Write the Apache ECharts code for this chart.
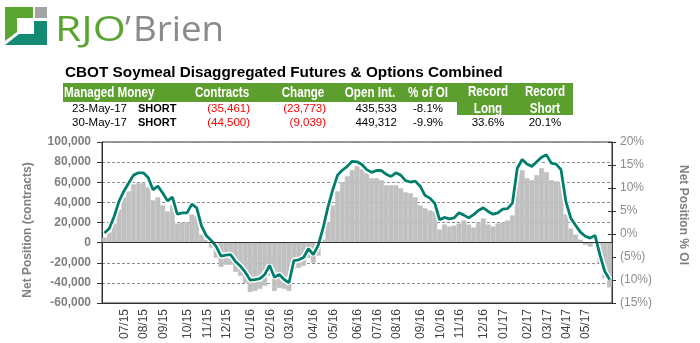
<!DOCTYPE html>
<html><head><meta charset="utf-8">
<script src="https://cdn.jsdelivr.net/npm/echarts@6/dist/echarts.min.js"></script>
<style>html,body{margin:0;padding:0;background:#fff}#c{width:700px;height:343px}</style>
</head><body><div id="c"></div>
<script>
// Weekly report dates (Tuesdays)
const dates = [
'2015-06-02','2015-06-09','2015-06-16','2015-06-23','2015-06-30','2015-07-07','2015-07-14','2015-07-21','2015-07-28',
'2015-08-04','2015-08-11','2015-08-18','2015-08-25','2015-09-01','2015-09-08','2015-09-15','2015-09-22','2015-09-29',
'2015-10-06','2015-10-13','2015-10-20','2015-10-27','2015-11-03','2015-11-10','2015-11-17','2015-11-24',
'2015-12-01','2015-12-08','2015-12-15','2015-12-22','2015-12-29','2016-01-05','2016-01-12','2016-01-19','2016-01-26',
'2016-02-02','2016-02-09','2016-02-16','2016-02-23','2016-03-01','2016-03-08','2016-03-15','2016-03-22','2016-03-29',
'2016-04-05','2016-04-12','2016-04-19','2016-04-26','2016-05-03','2016-05-10','2016-05-17','2016-05-24','2016-05-31',
'2016-06-07','2016-06-14','2016-06-21','2016-06-28','2016-07-05','2016-07-12','2016-07-19','2016-07-26',
'2016-08-02','2016-08-09','2016-08-16','2016-08-23','2016-08-30','2016-09-06','2016-09-13','2016-09-20','2016-09-27',
'2016-10-04','2016-10-11','2016-10-18','2016-10-25','2016-11-01','2016-11-08','2016-11-15','2016-11-22','2016-11-29',
'2016-12-06','2016-12-13','2016-12-20','2016-12-27','2017-01-03','2017-01-10','2017-01-17','2017-01-24','2017-01-31',
'2017-02-07','2017-02-14','2017-02-21','2017-02-28','2017-03-07','2017-03-14','2017-03-21','2017-03-28',
'2017-04-04','2017-04-11','2017-04-18','2017-04-25','2017-05-02','2017-05-09','2017-05-16','2017-05-23','2017-05-30'
];
// Net position (contracts) – grey bars
const netContracts = [
5000,10000,19000,33000,45000,51000,58000,59000,59000,55000,
42000,45000,37000,31000,37000,19000,20000,20000,28000,26000,
8000,3000,-5000,-15000,-24000,-22000,-22000,-29000,-33000,-40000,
-49000,-48000,-46000,-43000,-33000,-48000,-45000,-46000,-48000,-26000,
-25000,-23000,-15000,-20000,-13000,3000,20000,37000,51000,60000,
66000,72000,76000,73000,69000,64000,64000,62000,57000,57000,
57000,54000,50000,49000,45000,37000,34000,32000,31000,13000,
18000,16000,17000,19000,22000,18000,15000,20000,24000,18000,
16000,19000,20000,22000,27000,70000,72000,64000,62000,67000,
74000,70000,62000,61000,60000,28000,14000,8000,3000,-2000,
-4000,-1000,-20000,-35461,-44500
];
// Net position as % of open interest – green line
const pctOI = [
0.2,1.2,3.8,7.1,9.3,11.1,12.8,13.3,13.3,12.3,
9.6,10.4,8.9,7.2,8.0,4.3,4.6,4.6,6.5,5.7,
1.7,-0.4,-1.4,-2.7,-4.8,-4.6,-4.5,-6.0,-7.0,-8.3,
-10.0,-9.9,-9.7,-8.8,-6.8,-9.4,-8.8,-9.9,-10.6,-5.8,
-5.6,-5.1,-3.2,-4.5,-2.5,1.2,5.8,9.6,12.8,13.9,
14.7,15.8,15.7,15.1,14.0,13.4,13.8,13.8,13.0,12.5,
13.3,12.8,11.6,11.3,11.5,10.4,8.4,7.8,6.7,3.1,
3.6,3.3,3.5,4.6,4.1,3.5,4.2,5.1,5.7,4.9,
4.3,4.6,5.4,5.5,6.7,14.3,16.2,15.2,14.7,15.7,
16.7,17.2,15.4,15.2,14.0,7.1,3.5,1.9,0.4,-0.5,
-0.9,-0.3,-4.5,-8.1,-9.9
];
const titleText = 'CBOT Soymeal Disaggregated Futures & Options Combined';
const headerCols = ['Contracts','Change','Open Int.','% of OI'];
const row1 = ['23-May-17','SHORT','(35,461)','(23,773)','435,533','-8.1%'];
const row2 = ['30-May-17','SHORT','(44,500)','(9,039)','449,312','-9.9%'];
const records = ['33.6%','20.1%'];

const chart = echarts.init(document.getElementById('c'), null, {renderer:'canvas'});
const GREEN = '#5c9f2e';
const F = 'Liberation Sans, Arial, sans-serif';

function txt(x, y, text, o) {
  o = o || {};
  return {type:'text', x:x, y:y, z:10, scaleX:o.sx||1, style:{text:text, fill:o.fill||'#000',
    font:(o.weight||'normal')+' '+(o.size||11.5)+'px '+(o.family||F),
    align:o.align||'left', verticalAlign:'middle'}};
}
const colRight = [null,null,250,326,397,443];
const g = [];
// logo
g.push({type:'polygon', shape:{points:[[5,7],[33,7],[33,18],[17,18],[17,32],[5,41]]}, style:{fill:'#5aa532'}});
g.push({type:'rect', shape:{x:35,y:7,width:12,height:11}, style:{fill:'#a3a3a3'}});
g.push({type:'polygon', shape:{points:[[5,45],[47,45],[47,21],[34,21],[34,34],[19,34]]}, style:{fill:'#138a72'}});
g.push({type:'text', x:55, y:31, scaleX:1.25, style:{text:'RJO', fill:'#5aa532', font:'normal 34px Open Sans, sans-serif', verticalAlign:'middle'}});
g.push({type:'text', x:125, y:31, style:{text:'\u2019', fill:'#8a8a8a', font:'normal 34px Open Sans, sans-serif', verticalAlign:'middle'}});
g.push({type:'text', x:133, y:31, scaleX:1.08, style:{text:'Brien', fill:'#8a8a8a', font:'normal 34px Open Sans, sans-serif', verticalAlign:'middle'}});
// title
g.push(txt(65, 73, titleText, {weight:'bold', size:15.3}));
// table header
const HS = {fill:'#fff', weight:'bold', size:14, sx:0.83};
g.push({type:'rect', shape:{x:63,y:83,width:510,height:19}, style:{fill:GREEN}});
g.push({type:'rect', shape:{x:457,y:83,width:116,height:32}, style:{fill:GREEN}});
g.push(txt(64, 93, 'Managed Money', HS));
const hc = [222,303,370,428];
headerCols.forEach((h,i)=>g.push(txt(hc[i], 93, h, Object.assign({align:'center'}, HS))));
g.push(txt(488, 92, 'Record', Object.assign({align:'center'}, HS)));
g.push(txt(545, 92, 'Record', Object.assign({align:'center'}, HS)));
g.push(txt(488, 109, 'Long', Object.assign({align:'center'}, HS)));
g.push(txt(545, 109, 'Short', Object.assign({align:'center'}, HS)));
[[row1,109],[row2,123]].forEach(([r,y])=>{
  g.push(txt(72, y, r[0]));
  g.push(txt(138, y, r[1], {weight:'bold', size:11}));
  for (let k=2;k<6;k++) {
    const red = r[k].charAt(0)==='(';
    g.push(txt(colRight[k], y, r[k], {align:'right', fill: red ? '#ff0000' : '#000'}));
  }
});
g.push(txt(488, 123, records[0], {align:'center'}));
g.push(txt(545, 123, records[1], {align:'center'}));
// axis names
g.push({type:'text', x:28, y:230, rotation:Math.PI/2, style:{text:'Net Position (contracts)', fill:'#808080', font:'bold 12px '+F, align:'center', verticalAlign:'middle'}});
g.push({type:'text', x:683, y:215, rotation:-Math.PI/2, style:{text:'Net Position % OI', fill:'#808080', font:'bold 12px '+F, align:'center', verticalAlign:'middle'}});

const option = {
  animation:false,
  backgroundColor:'#fff',
  grid:{left:102, right:88, top:142, bottom:40, show:true, borderColor:'#333', borderWidth:1, backgroundColor:'transparent'},
  xAxis:{type:'category', data:dates, boundaryGap:true,
    axisLine:{onZero:false, lineStyle:{color:'#333'}}, axisTick:{show:false},
    axisLabel:{rotate:90, fontSize:12, fontFamily:F, color:'#404040', margin:6,
      verticalAlign:'bottom', lineHeight:8,
      interval:(i,v)=> i>0 && parseInt(v.slice(8),10)<=7,
      formatter:v=> v.slice(5,7)+'/'+v.slice(2,4)}},
  yAxis:[
    {type:'value', min:-60000, max:100000, interval:20000,
      axisLine:{show:true, lineStyle:{color:'#333'}},
      axisTick:{show:true, length:5, lineStyle:{color:'#333'}},
      axisLabel:{color:'#7f7f7f', fontWeight:'bold', fontSize:12, fontFamily:F, margin:11,
        formatter:v=> v.toLocaleString('en-US')},
      splitLine:{show:true, lineStyle:{color:'#8c8c8c', type:[3,2], width:1}}},
    {type:'value', position:'right', min:-15, max:20, interval:5,
      axisLine:{show:true, lineStyle:{color:'#333'}},
      axisTick:{show:true, length:4, lineStyle:{color:'#333'}},
      axisLabel:{color:'#8c8c8c', fontSize:12, fontFamily:F, margin:8,
        formatter:v=> v<0 ? '('+(-v)+'%)' : v+'%'},
      splitLine:{show:false}},
    {type:'value', position:'right', min:-15, max:20, interval:5,
      axisLine:{show:false}, axisLabel:{show:false}, splitLine:{show:false},
      axisTick:{show:true, inside:true, length:4, lineStyle:{color:'#333'}}}
  ],
  series:[
    {type:'bar', data:netContracts, yAxisIndex:0, barCategoryGap:'0%', barGap:'0%',
      itemStyle:{color:'#c0c0c0', borderColor:'#c0c0c0', borderWidth:0.6}, silent:true,
      markLine:{silent:true, symbol:'none', label:{show:false}, animation:false,
        lineStyle:{color:'#333', type:'solid', width:1}, data:[{yAxis:0}]}},
    {type:'line', data:pctOI, yAxisIndex:1, symbol:'none', silent:true,
      lineStyle:{color:'#ffffff', width:6}},
    {type:'line', data:pctOI, yAxisIndex:1, symbol:'none', silent:true,
      lineStyle:{color:'#007e6c', width:2.8}}
  ],
  graphic:g
};
chart.setOption(option);
</script></body></html>
